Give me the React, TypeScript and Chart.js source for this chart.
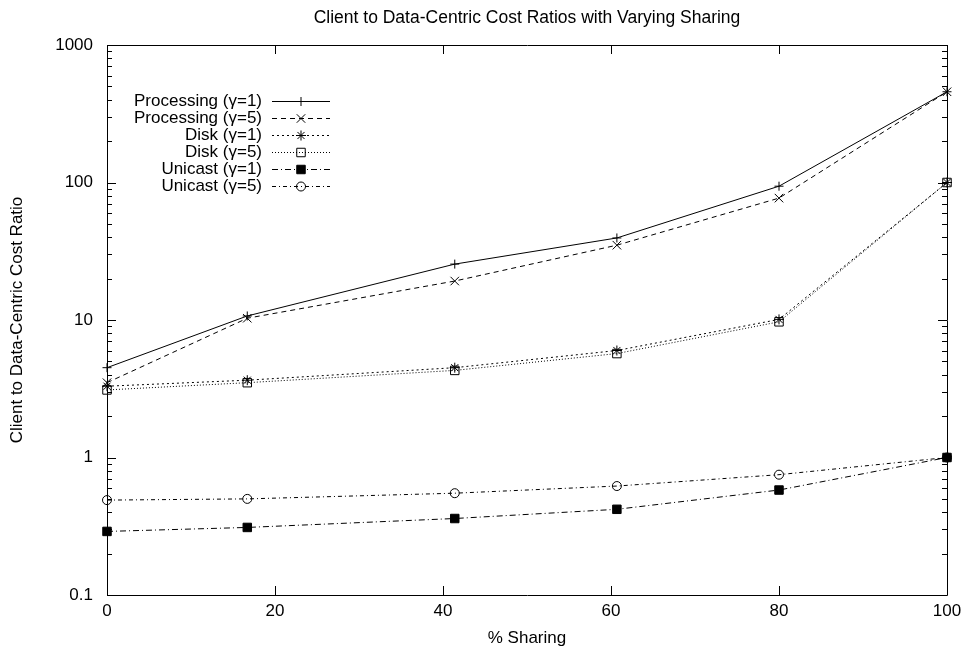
import React, { useEffect, useRef } from 'react';
import { Chart, registerables } from 'chart.js';
import { drawPoint } from 'chart.js/helpers';

Chart.register(...registerables);

const SHARING = [0, 16.7, 41.4, 60.7, 80, 100];
const PROC_G1 = [4.5, 10.7, 25.5, 39.5, 94, 457];
const PROC_G5 = [3.5, 10.3, 19.2, 35, 77, 457];
const DISK_G1 = [3.3, 3.65, 4.5, 6.0, 10.1, 100];
const DISK_G5 = [3.1, 3.5, 4.3, 5.7, 9.7, 100];
const UNI_G1 = [0.29, 0.31, 0.36, 0.42, 0.58, 1.0];
const UNI_G5 = [0.49, 0.5, 0.55, 0.62, 0.75, 1.0];

const SERIES_LABELS = [
  'Processing (γ=1)',
  'Processing (γ=5)',
  'Disk (γ=1)',
  'Disk (γ=5)',
  'Unicast (γ=1)',
  'Unicast (γ=5)',
];

const X_TICKS = [0, 20, 40, 60, 80, 100];
const Y_TICKS = [0.1, 1, 10, 100, 1000];

const TITLE = 'Client to Data-Centric Cost Ratios with Varying Sharing';
const X_TITLE = '% Sharing';
const Y_TITLE = 'Client to Data-Centric Cost Ratio';

const FONT = '"Liberation Sans", Arial, Helvetica, sans-serif';
const FS = 17;

const frameTicksPlugin = {
  id: 'frameTicks',
  afterDraw(chart: any) {
    const ctx = chart.ctx;
    const { left, right, top, bottom } = chart.chartArea;
    const xs = chart.scales.x;
    const ys = chart.scales.y;
    ctx.save();
    ctx.strokeStyle = '#000';
    ctx.lineWidth = 1;
    ctx.beginPath();
    ctx.rect(Math.round(left) + 0.5, Math.round(top) + 0.5, Math.round(right - left), Math.round(bottom - top));
    ctx.stroke();
    const major = 9;
    const minor = 5;
    ctx.beginPath();
    X_TICKS.forEach((v) => {
      const px = Math.round(xs.getPixelForValue(v)) + 0.5;
      ctx.moveTo(px, bottom);
      ctx.lineTo(px, bottom - major);
      ctx.moveTo(px, top);
      ctx.lineTo(px, top + major);
    });
    Y_TICKS.forEach((v, i) => {
      const py = Math.round(ys.getPixelForValue(v)) + 0.5;
      ctx.moveTo(left, py);
      ctx.lineTo(left + major, py);
      ctx.moveTo(right, py);
      ctx.lineTo(right - major, py);
      if (i < Y_TICKS.length - 1) {
        for (let m = 2; m <= 9; m++) {
          const my = Math.round(ys.getPixelForValue(v * m)) + 0.5;
          ctx.moveTo(left, my);
          ctx.lineTo(left + minor, my);
          ctx.moveTo(right, my);
          ctx.lineTo(right - minor, my);
        }
      }
    });
    ctx.stroke();
    ctx.restore();
  },
};

const legendPlugin = {
  id: 'gpLegend',
  afterDraw(chart: any) {
    const ctx = chart.ctx;
    const { left, top } = chart.chartArea;
    ctx.save();
    chart.data.datasets.forEach((ds: any, i: number) => {
      const y = top + 56 + i * 17;
      ctx.fillStyle = '#000';
      ctx.font = `${FS}px ${FONT}`;
      ctx.textAlign = 'right';
      ctx.textBaseline = 'middle';
      ctx.fillText(ds.label, left + 155, y);
      ctx.strokeStyle = ds.borderColor;
      ctx.lineWidth = ds.borderWidth;
      ctx.setLineDash(ds.borderDash || []);
      ctx.beginPath();
      ctx.moveTo(left + 165, y + 0.5);
      ctx.lineTo(left + 223, y + 0.5);
      ctx.stroke();
      ctx.setLineDash([]);
      ctx.fillStyle = ds.pointBackgroundColor;
      ctx.strokeStyle = ds.pointBorderColor;
      ctx.lineWidth = ds.pointBorderWidth;
      drawPoint(ctx, { pointStyle: ds.pointStyle, rotation: 0, radius: ds.pointRadius, borderWidth: ds.pointBorderWidth }, left + 194, y + 0.5);
    });
    ctx.restore();
  },
};

function mk(label: string, data: number[], dash: number[], style: string, radius: number, fill: string) {
  return {
    label,
    data: data.map((v, i) => ({ x: SHARING[i], y: v })),
    borderColor: '#000',
    borderWidth: 1,
    borderDash: dash,
    pointStyle: style,
    pointRadius: radius,
    pointBorderColor: '#000',
    pointBackgroundColor: fill,
    pointBorderWidth: 1,
    tension: 0,
    fill: false,
    clip: false,
  };
}

export default function App() {
  const ref = useRef<HTMLCanvasElement | null>(null);
  useEffect(() => {
    if (!ref.current) return;
    const chart = new Chart(ref.current, {
      type: 'line',
      data: {
        datasets: [
          mk(SERIES_LABELS[0], PROC_G1, [], 'cross', 4.5, '#000'),
          mk(SERIES_LABELS[1], PROC_G5, [5, 4], 'crossRot', 6, '#000'),
          mk(SERIES_LABELS[2], DISK_G1, [2, 3], 'star', 5, '#000'),
          mk(SERIES_LABELS[3], DISK_G5, [1, 2], 'rect', 6, 'rgba(255,255,255,0)'),
          mk(SERIES_LABELS[4], UNI_G1, [6, 3, 1, 3], 'rect', 6, '#000'),
          mk(SERIES_LABELS[5], UNI_G5, [4, 3, 1, 3], 'circle', 4.5, 'rgba(255,255,255,0)'),
        ] as any,
      },
      options: {
        animation: false,
        responsive: false,
        maintainAspectRatio: false,
        devicePixelRatio: 1,
        events: [],
        layout: { padding: { left: 0, right: 17, top: 0, bottom: 0 } },
        plugins: {
          legend: { display: false },
          tooltip: { enabled: false },
          title: {
            display: true,
            fullSize: false,
            text: TITLE,
            color: '#000',
            font: { family: FONT, size: 17.5, weight: 'normal', lineHeight: 1.2 },
            padding: { top: 8, bottom: 16 },
          },
        },
        scales: {
          x: {
            type: 'linear',
            min: 0,
            max: 100,
            afterBuildTicks: (s: any) => {
              s.ticks = X_TICKS.map((v) => ({ value: v }));
            },
            afterFit: (s: any) => {
              s.height = 55;
              s.paddingLeft = 0;
              s.paddingRight = 0;
            },
            grid: { display: false, drawTicks: false },
            border: { display: false },
            ticks: { color: '#000', font: { family: FONT, size: FS }, padding: 6, maxRotation: 0, autoSkip: false },
            title: { display: true, text: X_TITLE, color: '#000', font: { family: FONT, size: FS }, padding: { top: 0, bottom: 1 } },
          },
          y: {
            type: 'logarithmic',
            min: 0.1,
            max: 1000,
            afterBuildTicks: (s: any) => {
              s.ticks = Y_TICKS.map((v) => ({ value: v }));
            },
            afterFit: (s: any) => {
              s.width = 107;
              s.paddingTop = 0;
              s.paddingBottom = 0;
            },
            grid: { display: false, drawTicks: false },
            border: { display: false },
            ticks: {
              color: '#000',
              font: { family: FONT, size: FS },
              padding: 14,
              autoSkip: false,
              callback: (v: any) => String(v),
            },
            title: { display: true, text: Y_TITLE, color: '#000', font: { family: FONT, size: FS }, padding: { top: 7, bottom: 0 } },
          },
        },
      },
      plugins: [frameTicksPlugin, legendPlugin],
    } as any);
    return () => chart.destroy();
  }, []);
  return (
    <div style={{ position: 'absolute', left: 0, top: 0, width: 964, height: 650, background: '#fff' }}>
      <canvas ref={ref} width={964} height={650} style={{ display: 'block' }} />
    </div>
  );
}
